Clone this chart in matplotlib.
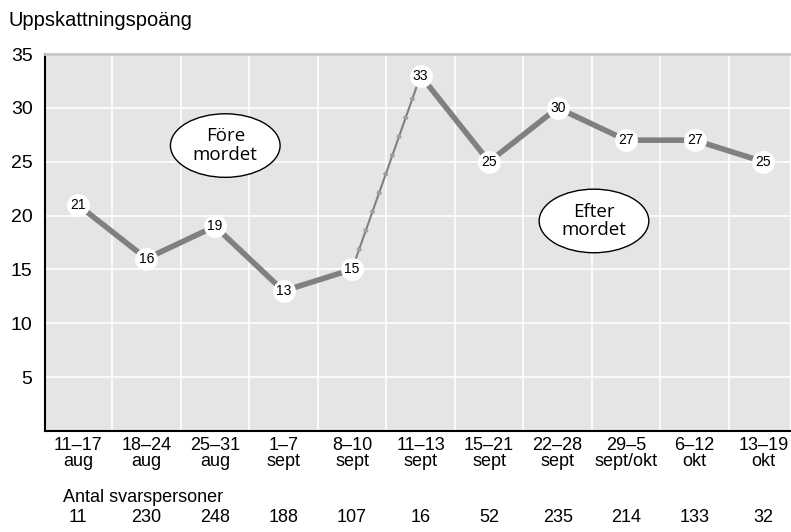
import matplotlib
matplotlib.use("Agg")
import matplotlib.pyplot as plt
from matplotlib.patches import Ellipse

plt.rcParams['font.family'] = ['Liberation Sans', 'DejaVu Sans']

perioder = ["11–17\naug", "18–24\naug", "25–31\naug", "1–7\nsept", "8–10\nsept",
            "11–13\nsept", "15–21\nsept", "22–28\nsept", "29–5\nsept/okt",
            "6–12\nokt", "13–19\nokt"]
poang = [21, 16, 19, 13, 15, 33, 25, 30, 27, 27, 25]
svarspersoner = [11, 230, 248, 188, 107, 16, 52, 235, 214, 133, 32]
yticks = [5, 10, 15, 20, 25, 30, 35]

fig = plt.figure(figsize=(7.91, 5.32), dpi=100)
ax = fig.add_axes([45/791, 1 - 431/532, 745/791, 377/532])
ax.set_facecolor('#e5e5e5')
x = list(range(len(poang)))

ax.set_xlim(-0.48, 10.39)
ax.set_ylim(0, 35)

# grid
for xv in [i + 0.5 for i in range(len(poang) - 1)]:
    ax.axvline(xv, color='white', lw=1.2, zorder=1)
for yv in yticks:
    ax.axhline(yv, color='white', lw=1.2, zorder=1)

# thick line, thin between 8-10 and 11-13 sept
ax.plot(x[:5], poang[:5], color='#808080', lw=4, zorder=2, solid_capstyle='butt')
ax.plot(x[5:], poang[5:], color='#808080', lw=4, zorder=2, solid_capstyle='butt')
ax.plot(x[4:6], poang[4:6], color='#808080', lw=1.5, zorder=2)
ax.plot(x[4:6], poang[4:6], color='#a0a0a0', lw=3.5, ls=(0, (0.6, 3.5)), zorder=2)

for xi, yi in zip(x, poang):
    ax.scatter([xi], [yi], s=270, color='white', zorder=3, linewidths=0)
    ax.text(xi, yi, str(yi), ha='center', va='center', fontsize=10, zorder=4)

ax.spines['right'].set_visible(False)
ax.spines['top'].set_color('#c8c8c8')
ax.spines['top'].set_linewidth(2)
ax.spines['left'].set_linewidth(1.5)
ax.spines['bottom'].set_linewidth(1.5)

ax.set_yticks(yticks)
ax.set_yticklabels([str(v) for v in yticks], fontsize=14)
ax.set_xticks(x)
ax.set_xticklabels(perioder, fontsize=13, linespacing=0.95)
ax.tick_params(length=0, pad=4)
ax.tick_params(axis='y', pad=9)

fig.text(8/791, 1 - 20/532, "Uppskattningspoäng", fontsize=14.5, va='center')
fig.text(63/791, 1 - 497/532, "Antal svarspersoner", fontsize=13, va='center')
for xi, n in zip(x, svarspersoner):
    px = ax.transData.transform((xi, 0))[0] / 791
    fig.text(px, 1 - 518/532, str(n), fontsize=13, ha='center', va='center')

# annotation ellipses
for cx, cy, txt in [(2.15, 26.5, "Före\nmordet"), (7.53, 19.5, "Efter\nmordet")]:
    e = Ellipse((cx, cy), width=1.6, height=5.9, facecolor='white',
                edgecolor='black', lw=1, zorder=5)
    ax.add_patch(e)
    ax.text(cx, cy, txt, ha='center', va='center', fontsize=13.5,
            family='Open Sans', linespacing=1.05, zorder=6)

fig.savefig('out.png', dpi=100)
